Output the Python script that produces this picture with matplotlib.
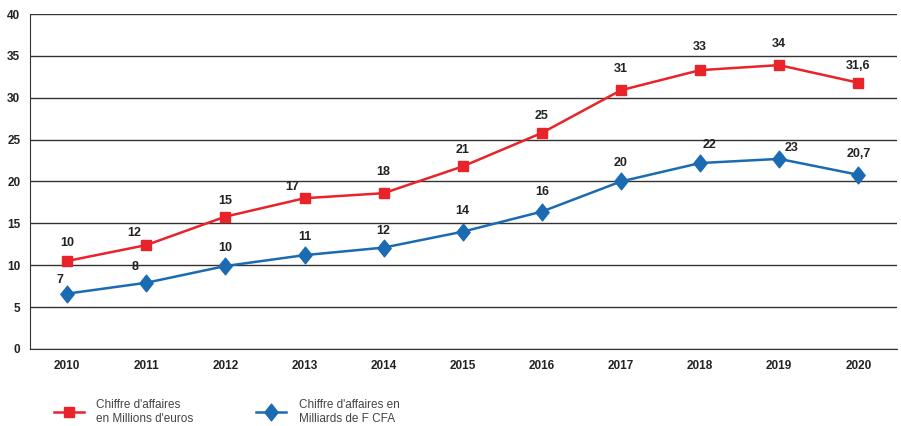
import matplotlib.pyplot as plt
from matplotlib.path import Path

years = ['2010', '2011', '2012', '2013', '2014', '2015', '2016', '2017', '2018', '2019', '2020']
euros = [10.5, 12.4, 15.8, 18.0, 18.6, 21.8, 25.8, 30.9, 33.3, 33.9, 31.8]
cfa = [6.6, 7.9, 9.9, 11.2, 12.1, 14.0, 16.4, 20.0, 22.2, 22.7, 20.8]
euros_lbl = ['10', '12', '15', '17', '18', '21', '25', '31', '33', '34', '31,6']
cfa_lbl = ['7', '8', '10', '11', '12', '14', '16', '20', '22', '23', '20,7']

# label offsets in points (dx, dy)
euros_off = [(0, 13), (-9, 9), (0, 11), (-9, 8), (0, 15), (0, 12), (0, 12), (0, 15), (0, 17), (0, 15), (0, 12)]
cfa_off = [(-5, 10), (-8, 11), (0, 13), (0, 13), (0, 12), (0, 15), (0, 14), (0, 13), (7, 13), (9, 8), (0, 15)]

plt.rcParams['font.family'] = ['Liberation Sans', 'DejaVu Sans']

red = '#e8232a'
blue = '#1b6bb3'
tall_diamond = Path([(0, 1), (0.8, 0), (0, -1), (-0.8, 0), (0, 1)],
                    [Path.MOVETO, Path.LINETO, Path.LINETO, Path.LINETO, Path.CLOSEPOLY])

fig = plt.figure(figsize=(9.01, 4.26), dpi=100)
ax = fig.add_axes([0.0333, 0.181, 0.9623, 0.786])
x = list(range(len(years)))

ax.plot(x, euros, color=red, lw=1.8, marker='s', ms=7.5, label="Chiffre d'affaires\nen Millions d'euros")
ax.plot(x, cfa, color=blue, lw=1.8, marker=tall_diamond, ms=12, label="Chiffre d'affaires en\nMilliards de F CFA")

for i in x:
    ax.annotate(euros_lbl[i], (i, euros[i]), xytext=euros_off[i], textcoords='offset points',
                ha='center', va='center', fontsize=9, fontweight='bold', color='#222222')
    ax.annotate(cfa_lbl[i], (i, cfa[i]), xytext=cfa_off[i], textcoords='offset points',
                ha='center', va='center', fontsize=9, fontweight='bold', color='#222222')

ax.set_xlim(-0.47, 10.49)
ax.set_ylim(0, 40)
ax.set_yticks(range(0, 41, 5))
ax.set_xticks(x)
ax.set_xticklabels(years)
ax.yaxis.grid(True, color='#333333', lw=1)
ax.set_axisbelow(True)
for s in ['top', 'right']:
    ax.spines[s].set_visible(False)
ax.spines['left'].set_color('#333333')
ax.spines['bottom'].set_color('#333333')
ax.tick_params(length=0, labelsize=8.5, colors='#222222')
ax.tick_params(axis='x', pad=8)
ax.tick_params(axis='y', pad=7)
for t in ax.get_xticklabels() + ax.get_yticklabels():
    t.set_fontweight('bold')

ax.legend(loc='upper left', bbox_to_anchor=(54 / 901, 1 - 399 / 426), bbox_transform=fig.transFigure,
          ncol=2, frameon=False, borderpad=0, borderaxespad=0, fontsize=8.5,
          handlelength=2.5, handletextpad=1.1, columnspacing=5.3, labelcolor='#444444')

fig.savefig('out.png', dpi=100)
